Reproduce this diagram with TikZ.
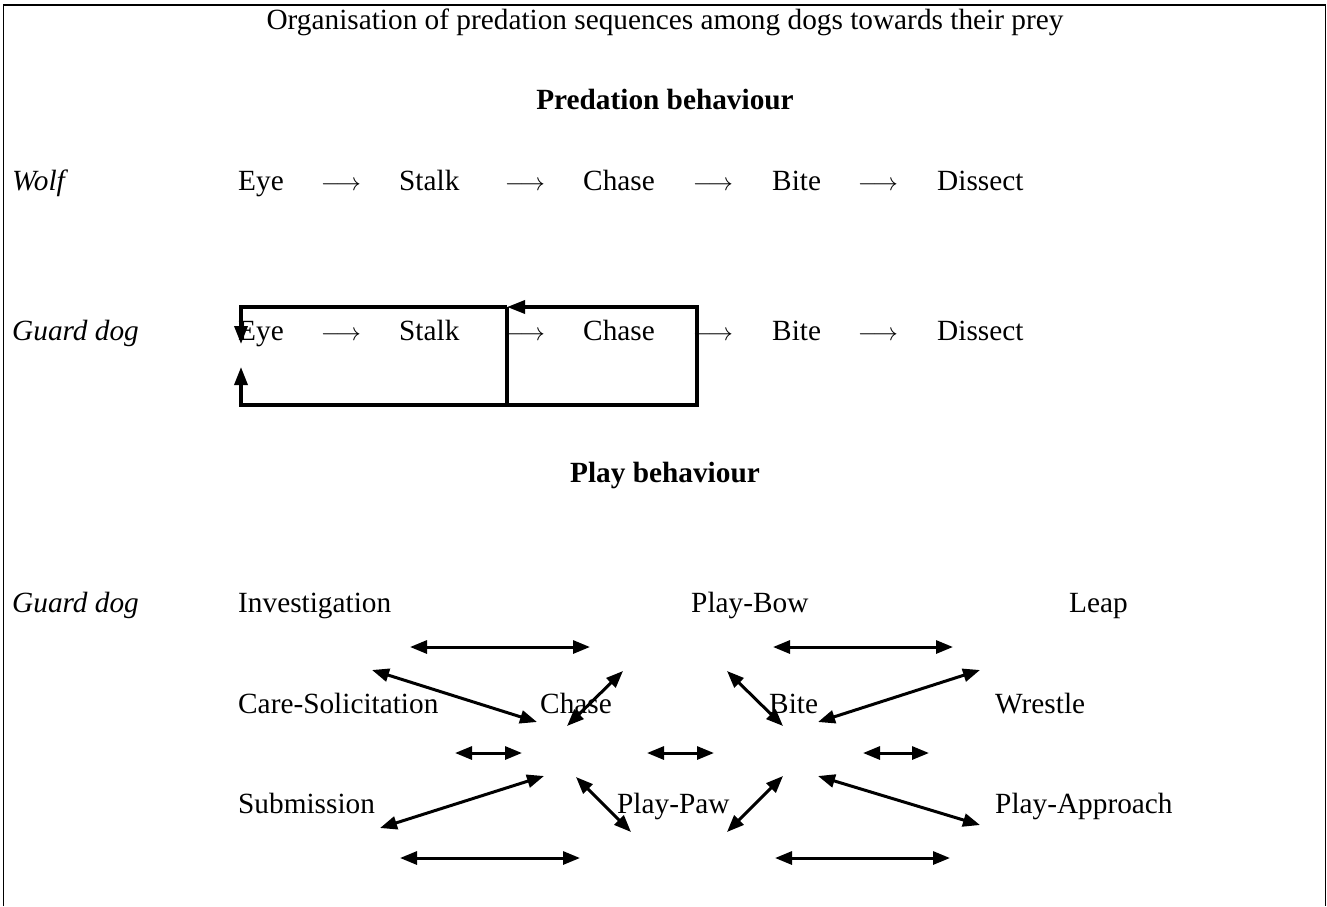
\documentclass[tikz,border=0pt]{standalone}
\usepackage{fontspec}
\setmainfont{Liberation Serif}
\usetikzlibrary{arrows.meta}
\begin{document}
\begin{tikzpicture}[x=1pt,y=-1pt,
  txt/.style={anchor=base west,inner sep=0pt,font=\fontsize{29.3}{33}\selectfont},
  ctxt/.style={anchor=base,inner sep=0pt,font=\fontsize{29.3}{33}\selectfont},
  seqarrow/.style={anchor=base,inner sep=0pt,font=\fontsize{29}{33}\selectfont},
  loopline/.style={line width=3.4pt},
  looptip/.style={-{Triangle[length=18pt,width=13pt]}},
  playarrow/.style={line width=3pt,{Triangle[length=17pt,width=13pt]}-{Triangle[length=17pt,width=13pt]}},
  frameline/.style={line width=1.6pt}]
\useasboundingbox (0,0) rectangle (1327,906);
% frame (open at the bottom)
\coordinate (f1) at (3.5,906);
\coordinate (f2) at (3.5,5);
\coordinate (f3) at (1325.5,5);
\coordinate (f4) at (1325.5,906);
\draw[frameline] (f1) -- (f2) -- (f3) -- (f4);

% headings
\node[ctxt] (title) at (665,29) {Organisation of predation sequences among dogs towards their prey};
\node[ctxt,font=\fontsize{29.3}{33}\selectfont\bfseries] (pred) at (665,109) {Predation behaviour};
\node[ctxt,font=\fontsize{29.3}{33}\selectfont\bfseries] (play) at (665,482) {Play behaviour};

% wolf row
\node[txt,font=\fontsize{29.3}{33}\selectfont\itshape] (wolf) at (12,190) {Wolf};
\node[txt] (weye) at (238,190) {Eye};
\node[seqarrow] (wa1) at (341,190) {$\longrightarrow$};
\node[txt] (wstalk) at (399,190) {Stalk};
\node[seqarrow] (wa2) at (525,190) {$\longrightarrow$};
\node[txt] (wchase) at (583,190) {Chase};
\node[seqarrow] (wa3) at (713,190) {$\longrightarrow$};
\node[txt] (wbite) at (772,190) {Bite};
\node[seqarrow] (wa4) at (878,190) {$\longrightarrow$};
\node[txt] (wdis) at (937,190) {Dissect};

% guard dog row
\node[txt,font=\fontsize{29.3}{33}\selectfont\itshape] (guard1) at (12,340) {Guard dog};
\node[txt] (geye) at (238,340) {Eye};
\node[seqarrow] (ga1) at (341,340) {$\longrightarrow$};
\node[txt] (gstalk) at (399,340) {Stalk};
\node[seqarrow] (ga2) at (525,340) {$\longrightarrow$};
\node[txt] (gchase) at (583,340) {Chase};
\node[seqarrow] (ga3) at (713,340) {$\longrightarrow$};
\node[txt] (gbite) at (772,340) {Bite};
\node[seqarrow] (ga4) at (878,340) {$\longrightarrow$};
\node[txt] (gdis) at (937,340) {Dissect};

% loops
\coordinate (tl) at (241,307);
\coordinate (tm) at (507,307);
\coordinate (tr) at (697,307);
\coordinate (bl) at (241,405);
\coordinate (bm) at (507,405);
\coordinate (br) at (697,405);
\coordinate (ld) at (241,344);
\coordinate (lu) at (241,367);
\draw[loopline] (tm) -- (tl);
\draw[loopline,looptip] (bm) -- (br) -- (tr) -- (tm);
\draw[loopline,looptip] (tm) -- (tl) -- (ld);
\draw[loopline,looptip] (tm) -- (bm) -- (bl) -- (lu);

% play behaviour
\node[txt,font=\fontsize{29.3}{33}\selectfont\itshape] (guard2) at (12,612) {Guard dog};
\node[txt] (inv) at (238,612) {Investigation};
\node[txt] (bow) at (691,612) {Play-Bow};
\node[txt] (leap) at (1069,612) {Leap};
\node[txt] (care) at (238,713) {Care-Solicitation};
\node[txt] (pchase) at (540,713) {Chase};
\node[txt] (pbite) at (769,713) {Bite};
\node[txt] (wrestle) at (995,713) {Wrestle};
\node[txt] (sub) at (238,813) {Submission};
\node[txt] (paw) at (617,813) {Play-Paw};
\node[txt] (appr) at (995,813) {Play-Approach};

\coordinate (a1s) at (410,647); \coordinate (a1e) at (590,647);
\coordinate (a2s) at (773,647); \coordinate (a2e) at (953,647);
\coordinate (d1s) at (372,670); \coordinate (d1e) at (537,722);
\coordinate (d2s) at (623,671); \coordinate (d2e) at (567,726);
\coordinate (d3s) at (727,671); \coordinate (d3e) at (783,726);
\coordinate (d4s) at (980,670); \coordinate (d4e) at (818,722);
\coordinate (s1s) at (455,753); \coordinate (s1e) at (522,753);
\coordinate (s2s) at (647,753); \coordinate (s2e) at (714,753);
\coordinate (s3s) at (863,753); \coordinate (s3e) at (929,753);
\coordinate (d5s) at (380,828); \coordinate (d5e) at (544,776);
\coordinate (d6s) at (576,777); \coordinate (d6e) at (631,832);
\coordinate (d7s) at (783,776); \coordinate (d7e) at (727,832);
\coordinate (d8s) at (818,776); \coordinate (d8e) at (980,825);
\coordinate (b1s) at (400,858); \coordinate (b1e) at (580,858);
\coordinate (b2s) at (775,858); \coordinate (b2e) at (950,858);
\foreach \p in {a1,a2,d1,d2,d3,d4,s1,s2,s3,d5,d6,d7,d8,b1,b2}
  \draw[playarrow] (\p s) -- (\p e);
\end{tikzpicture}
\end{document}
